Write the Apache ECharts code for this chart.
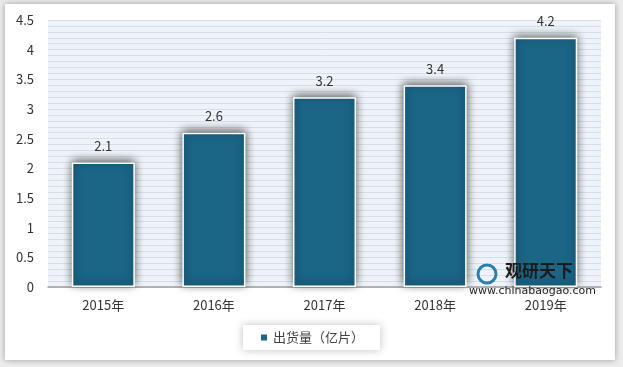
<!DOCTYPE html>
<html><head><meta charset="utf-8">
<script src="https://cdn.jsdelivr.net/npm/echarts@6/dist/echarts.min.js"></script>
<style>html,body{margin:0;padding:0;background:#ececec;}#c{width:623px;height:367px;}</style>
</head><body><div id="c"></div>
<script>
var categories = ['2015年','2016年','2017年','2018年','2019年'];
var values = [2.1, 2.6, 3.2, 3.4, 4.2];
var seriesName = '出货量（亿片）';
var yTicks = {min: 0, max: 4.5, interval: 0.5};

var chart = echarts.init(document.getElementById('c'));
var font = '"Noto Sans CJK SC", "Noto Sans", sans-serif';
chart.setOption({
  animation: false,
  textStyle: {fontFamily: font},
  graphic: [
    {type:'rect', z:-10, shape:{x:5,y:4,width:610,height:356}, style:{fill:'#fff', shadowBlur:6, shadowColor:'rgba(0,0,0,0.35)'}},
    {type:'text', z:10, left:505, top:262, style:{text:'观研天下', font:'bold 17px "Noto Sans CJK SC"', fill:'#1a1a1a'}},
    {type:'circle', z:10, shape:{cx:487, cy:274, r:9}, style:{fill:'none', stroke:'#2a7fb0', lineWidth:3}},
    {type:'text', z:10, left:469, top:286, style:{text:'www.chinabaogao.com', font:'11px "DejaVu Sans"', fill:'#222'}}
  ],
  grid: {left: 48, right: 22, top: 20, bottom: 80, containLabel: false},
  legend: {
    data:[seriesName], bottom: 17, left: 'center',
    itemWidth: 8, itemHeight: 8, icon: 'rect', itemGap: 5,
    backgroundColor:'#fff', shadowBlur:8, shadowColor:'rgba(0,0,0,0.25)',
    padding:[6,16,6,16],
    textStyle:{fontSize:13, color:'#404040', fontFamily:font}
  },
  xAxis: {
    type:'category', data: categories,
    axisLine:{lineStyle:{color:'#a0a0a0', width:1.5}},
    axisTick:{show:false},
    axisLabel:{fontSize:13, color:'#333', margin:12, fontFamily:font}
  },
  yAxis: {
    type:'value', min:yTicks.min, max:yTicks.max, interval:yTicks.interval,
    axisLine:{show:false}, axisTick:{show:false},
    axisLabel:{fontSize:13, color:'#333', margin:14, fontFamily:font},
    splitLine:{show:true, lineStyle:{color:'#d6dfe8', width:1}},
    minorTick:{show:false, splitNumber:5},
    minorSplitLine:{show:true, lineStyle:{color:'#d6dfe8', width:1}},
    splitArea:{show:true, areaStyle:{color:['#edf3f8','#edf3f8']}}
  },
  series: [{
    name: seriesName, type:'bar', data: values, barWidth:'57%',
    itemStyle:{color:'#1b6587', borderColor:'#fff', borderWidth:1.5,
      shadowBlur:9, shadowColor:'rgba(0,0,0,0.65)', shadowOffsetY:-2},
    label:{show:true, position:'top', distance:10, fontSize:13, color:'#333', fontFamily:font}
  }]
});
</script></body></html>
